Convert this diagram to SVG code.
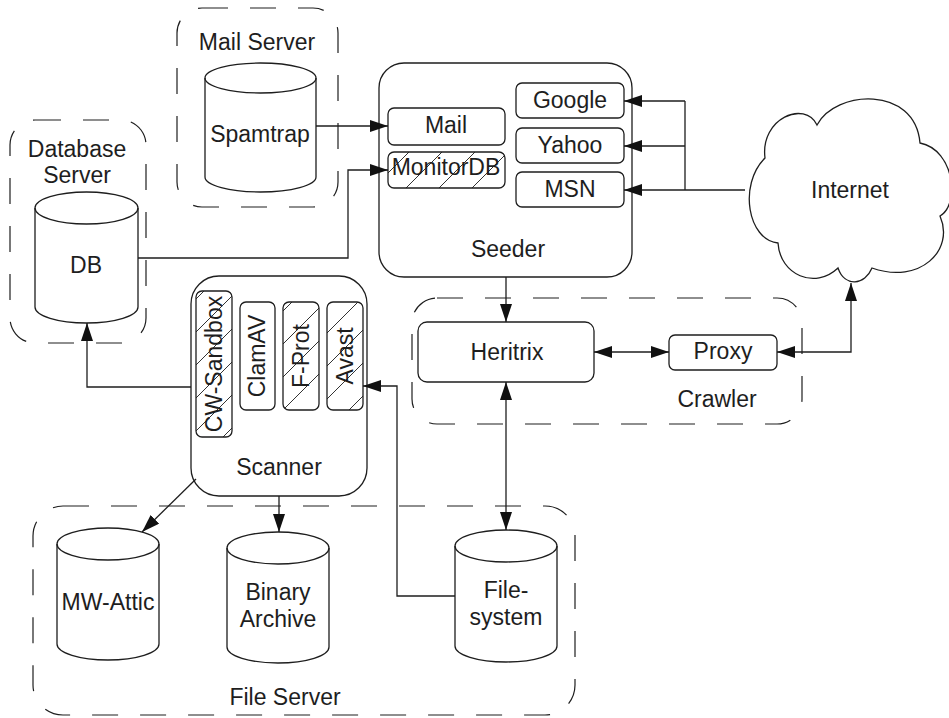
<svg xmlns="http://www.w3.org/2000/svg" width="949" height="718" viewBox="0 0 949 718">
<style>
text{font-family:"Liberation Sans",Arial,sans-serif;font-size:23px;fill:#1e1e1e;text-anchor:middle}
.grp{fill:none;stroke:#1e1e1e;stroke-width:1.2;stroke-dasharray:26 22}
.box{fill:#fff;stroke:#1e1e1e;stroke-width:1.3}
.hat{fill:url(#hatch);stroke:#1e1e1e;stroke-width:1.3}
.cyl{fill:#fff;stroke:#1e1e1e;stroke-width:1.3}
.cl{fill:none;stroke:#1e1e1e;stroke-width:1.3}
.ln{fill:none;stroke:#1e1e1e;stroke-width:1.3;marker-end:url(#arr)}
.ln2{fill:none;stroke:#1e1e1e;stroke-width:1.3;marker-end:url(#arr);marker-start:url(#arr)}
</style>
<defs>
<pattern id="hatch" patternUnits="userSpaceOnUse" width="33" height="33">
<rect width="33" height="33" fill="#fff"/>
<path d="M0 33 L33 0 M-3 3 L3 -3 M30 36 L36 30" stroke="#333" stroke-width="1"/>
</pattern>
<marker id="arr" markerUnits="userSpaceOnUse" markerWidth="18" markerHeight="12" refX="18" refY="6" orient="auto-start-reverse">
<path d="M0 0 L18 6 L0 12 Z" fill="#111"/>
</marker>
</defs>

<g id="mail-server">
<rect class="grp" x="177" y="8" width="161" height="199" rx="25"/>
<text x="257" y="50">Mail Server</text>
</g>
<g id="database-server">
<rect class="grp" x="10" y="120" width="136" height="223" rx="25"/>
<text x="77" y="157">Database</text>
<text x="77" y="183">Server</text>
</g>
<g id="crawler">
<rect class="grp" x="412" y="298" width="390" height="126" rx="25"/>
<text x="717" y="407">Crawler</text>
</g>
<g id="file-server">
<rect class="grp" x="33" y="506" width="542" height="209" rx="30"/>
<text x="285" y="705">File Server</text>
</g>

<g id="spamtrap">
<path class="cyl" d="M205 78 A55.5 15 0 0 1 316 78 L316 177 A55.5 15 0 0 1 205 177 Z"/>
<path class="cl" d="M205 78 A55.5 15 0 0 0 316 78"/>
<text x="260" y="142">Spamtrap</text>
</g>
<g id="db">
<path class="cyl" d="M35 208 A51.5 16 0 0 1 138 208 L138 307 A51.5 16 0 0 1 35 307 Z"/>
<path class="cl" d="M35 208 A51.5 16 0 0 0 138 208"/>
<text x="86" y="273">DB</text>
</g>

<g id="seeder">
<rect class="box" x="379" y="63" width="253" height="214" rx="25"/>
<text x="508" y="257">Seeder</text>
</g>
<g id="mail">
<rect class="box" x="388" y="108" width="117" height="37" rx="6"/>
<text x="446" y="133">Mail</text>
</g>
<g id="monitordb">
<rect class="hat" x="388" y="152" width="117" height="36" rx="6"/>
<text x="446" y="175">MonitorDB</text>
</g>
<g id="google">
<rect class="box" x="516" y="83" width="108" height="35" rx="6"/>
<text x="570" y="108">Google</text>
</g>
<g id="yahoo">
<rect class="box" x="516" y="128" width="108" height="35" rx="6"/>
<text x="570" y="153">Yahoo</text>
</g>
<g id="msn">
<rect class="box" x="516" y="172" width="108" height="35" rx="6"/>
<text x="570" y="197">MSN</text>
</g>

<g id="internet">
<path class="box" d="M778 243 C748 240 738 185 765 158 C760 118 805 100 817 125 C835 90 915 85 920 143 C955 150 960 205 940 216 C955 250 920 285 872 268 C865 285 845 288 838 268 C815 290 780 275 778 243 Z"/>
<text x="850" y="198">Internet</text>
</g>

<g id="heritrix">
<rect class="box" x="418" y="322" width="176" height="60" rx="9"/>
<text x="507" y="360">Heritrix</text>
</g>
<g id="proxy">
<rect class="box" x="669" y="335" width="108" height="35" rx="6"/>
<text x="723" y="359">Proxy</text>
</g>

<g id="scanner">
<rect class="box" x="191" y="276" width="176" height="220" rx="28"/>
<text x="279" y="475">Scanner</text>
</g>
<g id="cw-sandbox">
<rect class="hat" x="196" y="291" width="36" height="146" rx="6"/>
<text transform="translate(214 364) rotate(-90)" dy="8">CW-Sandbox</text>
</g>
<g id="clamav">
<rect class="box" x="240" y="302" width="35" height="108" rx="6"/>
<text transform="translate(257 356) rotate(-90)" dy="8">ClamAV</text>
</g>
<g id="f-prot">
<rect class="hat" x="283" y="302" width="36" height="108" rx="6"/>
<text transform="translate(301 356) rotate(-90)" dy="8">F-Prot</text>
</g>
<g id="avast">
<rect class="hat" x="327" y="302" width="36" height="108" rx="6"/>
<text transform="translate(345 356) rotate(-90)" dy="8">Avast</text>
</g>

<g id="mw-attic">
<path class="cyl" d="M57 544 A51 16 0 0 1 159 544 L159 644 A51 16 0 0 1 57 644 Z"/>
<path class="cl" d="M57 544 A51 16 0 0 0 159 544"/>
<text x="108" y="610">MW-Attic</text>
</g>
<g id="binary-archive">
<path class="cyl" d="M227 548 A51 16 0 0 1 329 548 L329 647 A51 16 0 0 1 227 647 Z"/>
<path class="cl" d="M227 548 A51 16 0 0 0 329 548"/>
<text x="278" y="600">Binary</text>
<text x="278" y="627">Archive</text>
</g>
<g id="filesystem">
<path class="cyl" d="M455 546 A51 16 0 0 1 557 546 L557 646 A51 16 0 0 1 455 646 Z"/>
<path class="cl" d="M455 546 A51 16 0 0 0 557 546"/>
<text x="506" y="598">File-</text>
<text x="506" y="625">system</text>
</g>

<g id="connectors">
<path class="ln" d="M316 126 L388 126"/>
<path class="ln" d="M138 258 L348 258 L348 170 L388 170"/>
<path class="cl" d="M745 190 L685 190 M685 101 L685 190"/>
<path class="ln" d="M685 101 L624 101"/>
<path class="ln" d="M685 146 L624 146"/>
<path class="ln" d="M685 190 L624 190"/>
<path class="ln" d="M506 277 L506 322"/>
<path class="ln2" d="M506 382 L506 530"/>
<path class="ln2" d="M594 352 L669 352"/>
<path class="ln2" d="M851 283 L851 352 L777 352"/>
<path class="ln" d="M191 387 L87 387 L87 323"/>
<path class="ln" d="M196 479 L142 532"/>
<path class="ln" d="M279 496 L279 532"/>
<path class="ln" d="M455 596 L397 596 L397 386 L363 386"/>
</g>
</svg>
